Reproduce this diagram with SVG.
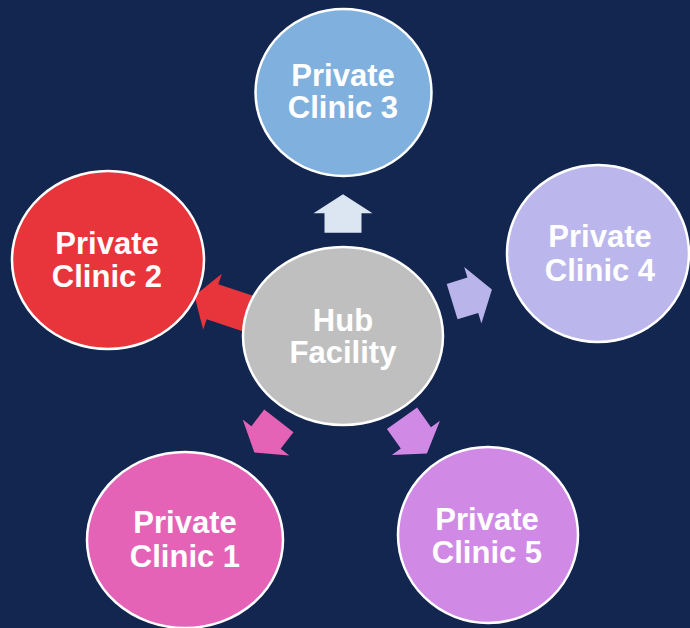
<svg xmlns="http://www.w3.org/2000/svg" width="690" height="628" viewBox="0 0 690 628">
<style>
.node{stroke:#ffffff;stroke-width:2.5}
.lbl{font-family:"Liberation Sans",Arial,sans-serif;font-weight:bold;font-size:31px;fill:#ffffff;text-anchor:middle}
</style>
<rect x="0" y="0" width="690" height="628" fill="#13264f"/>
<g id="connectors">
<polygon fill="#dce6f2" transform="translate(343,213.3) rotate(-90)" points="-19.4,-18.5 0,-18.5 0,-29.5 19,0 0,29.5 0,18.5 -19.4,18.5"/>
<polygon fill="#b9b4ea" transform="translate(472.8,295.3) rotate(-17)" points="-21.6,-18.5 0,-18.5 0,-29.5 20,0 0,29.5 0,18.5 -21.6,18.5"/>
<polygon fill="#e563b6" transform="translate(266,437.5) rotate(127.8)" points="-21,-18.5 0,-18.5 0,-29.5 19,0 0,29.5 0,18.5 -21,18.5"/>
<polygon fill="#d08ae6" transform="translate(415.9,437.9) rotate(54.6)" points="-24,-18.5 0,-18.5 0,-29.5 19,0 0,29.5 0,18.5 -24,18.5"/>
<polygon fill="#e8353c" transform="translate(212.5,301.7) rotate(198.4)" points="-45,-18.5 0,-18.5 0,-29.5 19,0 0,29.5 0,18.5 -45,18.5"/>
</g>
<g id="hub">
<ellipse class="node" cx="343" cy="336" rx="100" ry="89" fill="#bfbfbf"/>
<text class="lbl" x="343" y="331">Hub</text>
<text class="lbl" x="343" y="363">Facility</text>
</g>
<g id="clinic3">
<ellipse class="node" cx="343.5" cy="92.5" rx="88" ry="83.5" fill="#80b1de"/>
<text class="lbl" x="343" y="86">Private</text>
<text class="lbl" x="343" y="118">Clinic 3</text>
</g>
<g id="clinic2">
<ellipse class="node" cx="108" cy="260" rx="96" ry="89" fill="#e8353c"/>
<text class="lbl" x="107" y="254">Private</text>
<text class="lbl" x="107" y="287">Clinic 2</text>
</g>
<g id="clinic4">
<ellipse class="node" cx="598" cy="253.5" rx="91" ry="88.5" fill="#bbb6eb"/>
<text class="lbl" x="600" y="247">Private</text>
<text class="lbl" x="600" y="281">Clinic 4</text>
</g>
<g id="clinic1">
<ellipse class="node" cx="185" cy="540" rx="98" ry="88" fill="#e563b6"/>
<text class="lbl" x="185" y="533">Private</text>
<text class="lbl" x="185" y="567">Clinic 1</text>
</g>
<g id="clinic5">
<ellipse class="node" cx="488" cy="535" rx="90" ry="88" fill="#d08ae6"/>
<text class="lbl" x="487" y="530">Private</text>
<text class="lbl" x="487" y="563">Clinic 5</text>
</g>
</svg>
